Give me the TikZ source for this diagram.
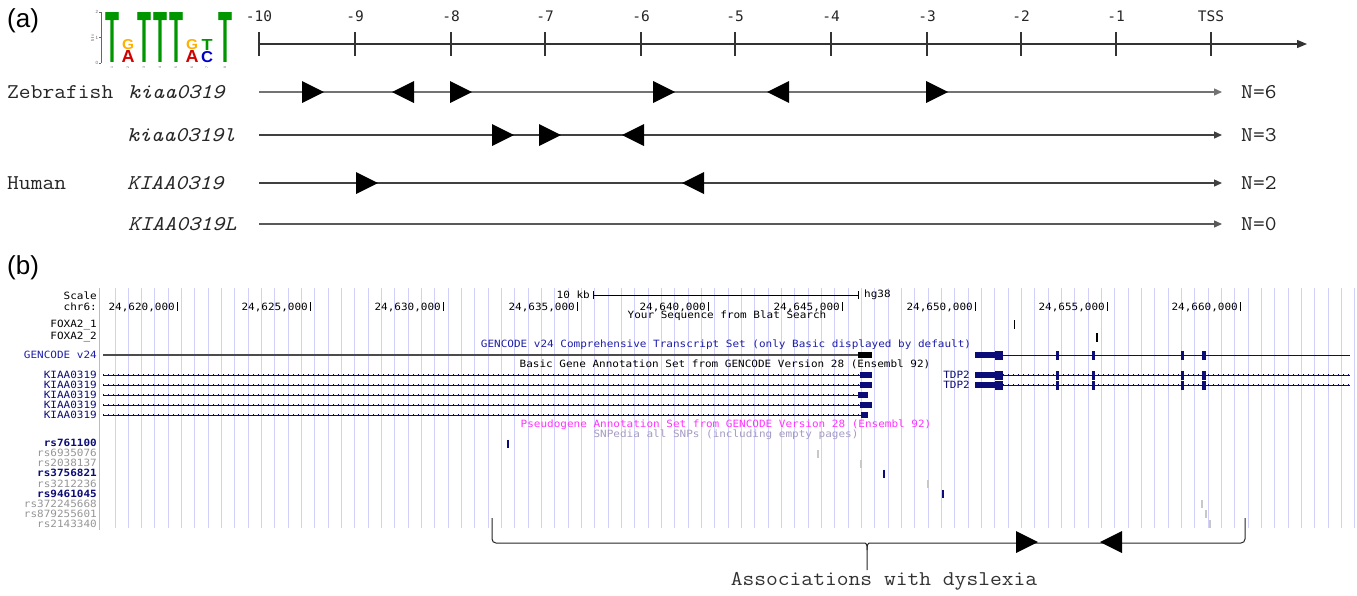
\documentclass[tikz,border=0pt]{standalone}
\usepackage{fontspec}
\usepackage{graphicx}
\setmainfont{Liberation Sans}
\newfontfamily\labfont{Latin Modern Mono}[FakeStretch=1.09]
\newfontfamily\axfont{DejaVu Sans Mono}
\newfontfamily\ucscfont{DejaVu Sans Mono}[FakeStretch=1.1]
\usetikzlibrary{arrows.meta}
\definecolor{navy}{RGB}{12,12,120}
\definecolor{gencblue}{RGB}{30,30,170}
\definecolor{gridc}{RGB}{208,208,250}
\definecolor{redl}{RGB}{255,160,160}
\definecolor{magc}{RGB}{255,51,255}
\definecolor{snpgray}{RGB}{150,150,150}
\definecolor{snpmark}{RGB}{200,200,200}
\definecolor{snpedia}{RGB}{165,155,195}
\definecolor{lgreen}{RGB}{0,150,0}
\definecolor{lorange}{RGB}{255,176,0}
\definecolor{lred}{RGB}{210,0,0}
\definecolor{lblue}{RGB}{0,0,200}
\newcommand\triR[2]{\fill[black] (#1,#2-11) -- (#1+22,#2) -- (#1,#2+11) -- cycle;}
\newcommand\triL[2]{\fill[black] (#1,#2) -- (#1+22,#2-11) -- (#1+22,#2+11) -- cycle;}
\begin{document}
\begin{tikzpicture}[x=1pt,y=-1pt,
  lab/.style={font=\labfont\fontsize{21}{21}\selectfont, inner sep=0, anchor=west, text=black!85},
  axlab/.style={font=\axfont\fontsize{14.5}{14.5}\selectfont, inner sep=0, text=black!85},
  ut/.style={font=\ucscfont\fontsize{10}{10}\selectfont, inner sep=0},
  rowline/.style={line width=1.3, draw=black!75, -{Triangle[length=8pt,width=7pt]}},
  panel/.style={font=\fontsize{26}{26}\selectfont, inner sep=0, anchor=west},
  intron/.style={navy, line width=2.6, dash pattern=on 0.6pt off 4.4pt},
  intronline/.style={navy, line width=0.6},
  snpn/.style={navy, line width=2},
  snpg/.style={snpmark, line width=1.3},
  logo/.style={anchor=south, inner sep=0}]
\useasboundingbox (0,0) rectangle (1357,595);
\fill[white] (0,0) rectangle (1357,595);

% ---------------- panel (a) ----------------
\node[panel] (pa) at (7,21) {(a)};

% sequence logo
\draw[black!60, line width=0.6] (101,12) -- (101,63);
\foreach \yy/\t in {12/2,37.5/1,63/0}{
  \draw[black!60, line width=0.5] (99,\yy) -- (101,\yy);
  \node[font=\fontsize{4.5}{4.5}\selectfont, inner sep=0, text=black!60] (lg\t) at (97,\yy) {\t};
}
\node[rotate=90, font=\fontsize{4}{4}\selectfont, inner sep=0, text=black!60] (bits) at (92.5,38) {bits};
\foreach \xx in {112,144,160,176,225}{
  \node[logo, text=lgreen] (lt\xx) at (\xx,63) {\resizebox{14pt}{50pt}{\textbf{T}}};
}
\foreach \xx in {128,192}{
  \node[logo, text=lred] (la\xx) at (\xx,63) {\resizebox{13pt}{12pt}{\textbf{A}}};
  \node[logo, text=lorange] (lgg\xx) at (\xx,50) {\resizebox{12pt}{10pt}{\textbf{G}}};
}
\node[logo, text=lblue] (lc) at (207,63) {\resizebox{12pt}{11pt}{\textbf{C}}};
\node[logo, text=lgreen] (lts) at (207,50.5) {\resizebox{11pt}{11pt}{\textbf{T}}};
\foreach \xx/\n in {112/1,128/2,144/3,160/4,176/5,192/6,207/7,225/8}{
  \node[rotate=90, font=\fontsize{3.5}{3.5}\selectfont, inner sep=0, text=black!60] (ci\n) at (\xx,68) {\n};
}

% axis
\coordinate (ax0) at (259,44);
\coordinate (ax1) at (1307,44);
\draw[line width=1.3, black!80, -{Triangle[length=10pt,width=8pt]}] (ax0) -- (ax1);
\foreach \xx/\l/\n in {259/-10/a,355/-9/b,451/-8/c,545/-7/d,641/-6/e,735/-5/f,831/-4/g,927/-3/h,1021/-2/i,1116/-1/j,1211/TSS/k}{
  \draw[line width=1.2, black!80] (\xx,32) -- (\xx,56);
  \node[axlab] (tk\n) at (\xx,16) {\l};
}

% rows
\foreach \yy/\n in {92/1,135/2,183/3,224/4}{
  \coordinate (r\n s) at (259,\yy);
  \coordinate (r\n e) at (1222,\yy);
}
\draw[rowline, draw=black!55] (r1s) -- (r1e);
\draw[rowline] (r2s) -- (r2e);
\draw[rowline] (r3s) -- (r3e);
\draw[rowline, draw=black!65] (r4s) -- (r4e);

\node[lab] (zf) at (7,92) {Zebrafish};
\node[lab] (g1) at (128,92) {\itshape kiaa0319};
\node[lab] (g2) at (127,135) {\itshape kiaa0319l};
\node[lab] (hu) at (7,183) {Human};
\node[lab] (g3) at (127,183) {\itshape KIAA0319};
\node[lab] (g4) at (128,224) {\itshape KIAA0319L};

\node[lab] (n6) at (1241,92) {N=6};
\node[lab] (n3) at (1241,135) {N=3};
\node[lab] (n2) at (1241,183) {N=2};
\node[lab] (n0) at (1241,224) {N=0};

% binding sites
\triR{302}{92} \triL{392}{92} \triR{450}{92} \triR{653}{92} \triL{767}{92} \triR{926}{92}
\triR{492}{135} \triR{539}{135} \triL{622}{135}
\triR{356}{183} \triL{682}{183}

% ---------------- panel (b) ----------------
\node[panel] (pb) at (7,268) {(b)};

% grid
\foreach \i in {0,...,93}{
  \draw[gridc, line width=1] (115+13.33*\i,288) -- (115+13.33*\i,528);
}
\draw[redl, line width=1] (99.5,288) -- (99.5,530);

% ruler
\node[ut, anchor=east] (sc) at (97,296) {Scale};
\node[ut, anchor=east] (chr) at (97,307) {chr6:};
\foreach \xx/\n in {177/620,310/625,443/630,577/635,708/640,842/645,975/650,1107/655,1240/660}{
  \node[ut, anchor=east] (pos\n) at (\xx-2,307) {24,\n,000};
  \draw[black, line width=0.8] (\xx,302) -- (\xx,311);
}
\coordinate (sb0) at (593,295);
\coordinate (sb1) at (858,295);
\draw[black, line width=0.8] (sb0) -- (sb1);
\draw[black, line width=0.8] (593,291) -- (593,299);
\draw[black, line width=0.8] (858,291) -- (858,299);
\node[ut, anchor=east] (kb) at (590,295) {10 kb};
\node[ut, anchor=west] (hg) at (864,295) {hg38};
\node[ut] (blat) at (727,316) {Your Sequence from Blat Search};

% FOXA2
\node[ut, anchor=east] (fx1) at (97,325) {FOXA2\_1};
\node[ut, anchor=east] (fx2) at (97,337) {FOXA2\_2};
\draw[black, line width=0.8] (1014,320) -- (1014,329);
\draw[black, line width=1.3] (1097,333) -- (1097,342);

% GENCODE v24
\node[ut, text=gencblue] (gct) at (726,345) {GENCODE v24 Comprehensive Transcript Set (only Basic displayed by default)};
\node[ut, anchor=east, text=gencblue] (gcl) at (97,355) {GENCODE v24};
\coordinate (gk0) at (103,355);
\coordinate (gk1) at (858,355);
\draw[black!70, line width=1.6] (gk0) -- (gk1);
\fill[black] (858,352.3) rectangle (872,357.7);

\node[ut] (basic) at (725,364.5) {Basic Gene Annotation Set from GENCODE Version 28 (Ensembl 92)};

% KIAA0319 transcripts
\foreach \yy/\bx/\ex in {375/860/872,385/860/872,395/858/868,405/860/872,415/861/868}{
  \node[ut, anchor=east, text=navy] (k\yy) at (97,\yy) {KIAA0319};
  \draw[intronline] (103,\yy) -- (\bx,\yy);
  \draw[intron] (103,\yy) -- (\bx,\yy);
  \fill[navy] (\bx,\yy-3) rectangle (\ex,\yy+3);
}

% TDP2
\node[ut, anchor=east, text=navy] (tdp1) at (970,375) {TDP2};
\node[ut, anchor=east, text=navy] (tdp2) at (970,385) {TDP2};
\draw[navy, line width=0.9] (1003,355) -- (1350,355);
\foreach \yy in {375,385}{
  \draw[intronline] (1003,\yy) -- (1350,\yy);
  \draw[intron] (1003,\yy) -- (1350,\yy);
}
\foreach \yy in {355,375,385}{
  \fill[navy] (975,\yy-3) rectangle (995,\yy+3);
  \fill[navy] (995,\yy-4.5) rectangle (1003,\yy+4.5);
  \foreach \ex in {1057,1093,1182}{
    \fill[navy] (\ex-1.5,\yy-4.5) rectangle (\ex+1.5,\yy+4.5);
  }
  \fill[navy] (1202,\yy-4.5) rectangle (1206,\yy+4.5);
}

\node[ut, text=magc] (pseudo) at (726,424.5) {Pseudogene Annotation Set from GENCODE Version 28 (Ensembl 92)};
\node[ut, text=snpedia] (snped) at (726,434.5) {SNPedia all SNPs (including empty pages)};

% SNPs
\node[ut, anchor=east, text=navy, font=\ucscfont\bfseries\fontsize{10}{10}\selectfont] (s1) at (97,443) {rs761100};
\node[ut, anchor=east, text=snpgray] (s2) at (97,453) {rs6935076};
\node[ut, anchor=east, text=snpgray] (s3) at (97,463) {rs2038137};
\node[ut, anchor=east, text=navy, font=\ucscfont\bfseries\fontsize{10}{10}\selectfont] (s4) at (97,473) {rs3756821};
\node[ut, anchor=east, text=snpgray] (s5) at (97,483.5) {rs3212236};
\node[ut, anchor=east, text=navy, font=\ucscfont\bfseries\fontsize{10}{10}\selectfont] (s6) at (97,494) {rs9461045};
\node[ut, anchor=east, text=snpgray] (s7) at (97,504) {rs372245668};
\node[ut, anchor=east, text=snpgray] (s8) at (97,514) {rs879255601};
\node[ut, anchor=east, text=snpgray] (s9) at (97,524) {rs2143340};

\draw[snpn] (508,439.5) -- (508,447.5);
\draw[snpg] (818,449.5) -- (818,457.5);
\draw[snpg] (861,459.5) -- (861,468);
\draw[snpn] (884,469.5) -- (884,477.5);
\draw[snpg] (928,479.5) -- (928,488);
\draw[snpn] (943,490) -- (943,498);
\draw[snpg] (1202,500) -- (1202,508);
\draw[snpg] (1206,510) -- (1206,518);
\draw[snpg] (1210,520) -- (1210,528);

% brace
\coordinate (bl) at (492,518);
\coordinate (br) at (1245,518);
\coordinate (bt) at (867,570);
\draw[black!85, line width=1, rounded corners=4pt] (bl) -- (492,543) -- (861,543) .. controls (866,543) and (867,545) .. (867,550) -- (bt);
\draw[black!85, line width=1, rounded corners=4pt] (br) -- (1245,543) -- (873,543) .. controls (868,543) and (867,545) .. (867,550);
\triR{1016}{542} \triL{1100}{542}
\node[lab, anchor=center, text=black!80] (assoc) at (884,581) {Associations with dyslexia};
\end{tikzpicture}
\end{document}
